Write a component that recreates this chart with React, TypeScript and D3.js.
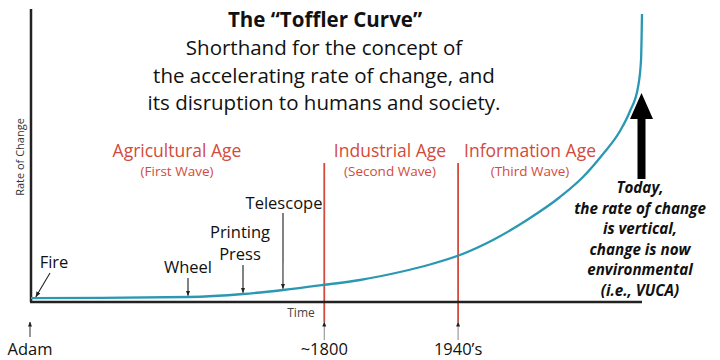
import React from "react";
import * as d3 from "d3";

const curveT = [0, 11.29, 25.7, 34.7, 41.24, 47.79, 53.85, 60.39, 65.3, 70.21, 75.61, 81.18, 86.58, 90.34, 93.62, 96.4, 98.04, 99.35, 99.84, 100];
const curveRate = [1.3, 1.43, 1.71, 2.73, 4.1, 5.8, 7.51, 10.24, 12.8, 16.04, 21.16, 27.99, 35.84, 42.66, 50.51, 58.36, 65.19, 73.38, 82.59, 98.29];

const milestoneNames = ["Fire", "Wheel", "Printing Press", "Telescope"];
const milestoneT = [0.8, 25.7, 34.7, 41.24];

const eraNames = ["Agricultural Age", "Industrial Age", "Information Age"];
const eraWaves = ["(First Wave)", "(Second Wave)", "(Third Wave)"];
const eraBoundaryT = [48.0, 69.9];
const timeLabels = ["Adam", "~1800", "1940\u2019s"];
const timeLabelT = [0, 48.0, 69.9];

const titleLines = [
  "Shorthand for the concept of",
  "the accelerating rate of change, and",
  "its disruption to humans and society.",
];
const noteLines = [
  "Today,",
  "the rate of change",
  "is vertical,",
  "change is now",
  "environmental",
  "(i.e., VUCA)",
];

const W = 720;
const H = 360;
const FONT = "'Open Sans', 'Noto Sans', sans-serif";
const RED = "#d24b3c";
const TEAL = "#2b98b3";

export default function App() {
  const x = d3.scaleLinear().domain([0, 100]).range([31, 642]);
  const y = d3.scaleLinear().domain([0, 100]).range([302, 9]);
  const pts: [number, number][] = curveT.map((t, i) => [t, curveRate[i]]);
  const line = d3
    .line<[number, number]>()
    .x((d) => x(d[0]))
    .y((d) => y(d[1]))
    .curve(d3.curveMonotoneX);
  const interp = (t: number) => {
    for (let i = 1; i < curveT.length; i++) {
      if (t <= curveT[i]) {
        const f = (t - curveT[i - 1]) / (curveT[i] - curveT[i - 1]);
        return curveRate[i - 1] + f * (curveRate[i] - curveRate[i - 1]);
      }
    }
    return curveRate[curveRate.length - 1];
  };

  const eraCenters = [177, 390, 530];

  const msLayout = [
    { lines: ["Fire"], lx: 54, ly: [268], from: [50, 273] },
    { lines: ["Wheel"], lx: 188, ly: [273], from: [188, 278] },
    { lines: ["Printing", "Press"], lx: 240, ly: [238, 260], from: [243, 265] },
    { lines: ["Telescope"], lx: 284, ly: [209], from: [283, 213] },
  ];

  return (
    <svg width={W} height={H} style={{ display: "block", position: "absolute", left: 0, top: 0 }} fontFamily={FONT}>
      <defs>
        <marker id="ah" viewBox="0 0 10 10" refX="9" refY="5" markerWidth="5" markerHeight="5" orient="auto">
          <path d="M0,1 L10,5 L0,9 z" fill="#222" />
        </marker>
      </defs>
      <rect width={W} height={H} fill="#fff" />

      {/* title */}
      <text x={325} y={27} textAnchor="middle" fontSize={20.5} fontWeight={700} fill="#111">
        The “Toffler Curve”
      </text>
      {titleLines.map((l, i) => (
        <text key={i} x={324} y={55 + i * 27.5} textAnchor="middle" fontSize={20.5} fill="#111">
          {l}
        </text>
      ))}

      {/* eras */}
      {eraNames.map((n, i) => (
        <g key={n}>
          <text x={eraCenters[i]} y={157} textAnchor="middle" fontSize={17.5} fill={RED}>
            {n}
          </text>
          <text x={eraCenters[i]} y={176} textAnchor="middle" fontSize={13.5} fill={RED}>
            {eraWaves[i]}
          </text>
        </g>
      ))}
      {eraBoundaryT.map((t, i) => (
        <line key={i} x1={x(t)} x2={x(t)} y1={163} y2={322} stroke={RED} strokeWidth={1.8} />
      ))}

      {/* axes */}
      <line x1={31} x2={31} y1={y(100)} y2={y(0)} stroke="#222" strokeWidth={2.5} />
      <line x1={30} x2={642} y1={y(0)} y2={y(0)} stroke="#222" strokeWidth={2.5} />
      <text transform={`translate(24,157) rotate(-90)`} textAnchor="middle" fontSize={11} fill="#333">
        Rate of Change
      </text>
      <text x={301} y={317} textAnchor="middle" fontSize={12} fill="#444">
        Time
      </text>

      {/* curve */}
      <path d={line(pts) || ""} fill="none" stroke={TEAL} strokeWidth={2.3} />

      {/* milestones */}
      {milestoneNames.map((n, i) => {
        const L = msLayout[i];
        const tx = x(milestoneT[i]);
        const ty = y(interp(milestoneT[i])) - 1.5;
        return (
          <g key={n}>
            {L.lines.map((s, j) => (
              <text key={j} x={L.lx} y={L.ly[j]} textAnchor="middle" fontSize={16.5} fill="#111">
                {s}
              </text>
            ))}
            <line x1={L.from[0]} y1={L.from[1]} x2={tx} y2={ty} stroke="#222" strokeWidth={1.1} markerEnd="url(#ah)" />
          </g>
        );
      })}

      {/* big arrow */}
      <path d="M637.5,179 L637.5,119 L630,119 L641.5,93 L653,119 L645.5,119 L645.5,179 Z" fill="#000" />
      {noteLines.map((l, i) => (
        <text key={i} x={640} y={193 + i * 20.5} textAnchor="middle" fontSize={15.2} fontWeight={700} fontStyle="italic" fill="#111">
          {l}
        </text>
      ))}

      {/* time labels */}
      {timeLabels.map((l, i) => {
        const tx = i === 0 ? 30 : x(timeLabelT[i]);
        return (
          <g key={l}>
            <line x1={tx} x2={tx} y1={i === 0 ? 337 : 340} y2={322} stroke={i === 0 ? "#333" : "#888"} strokeWidth={1} markerEnd="url(#ah)" />
            <text x={tx} y={355} textAnchor="middle" fontSize={16.5} fill="#111">
              {l}
            </text>
          </g>
        );
      })}
    </svg>
  );
}
